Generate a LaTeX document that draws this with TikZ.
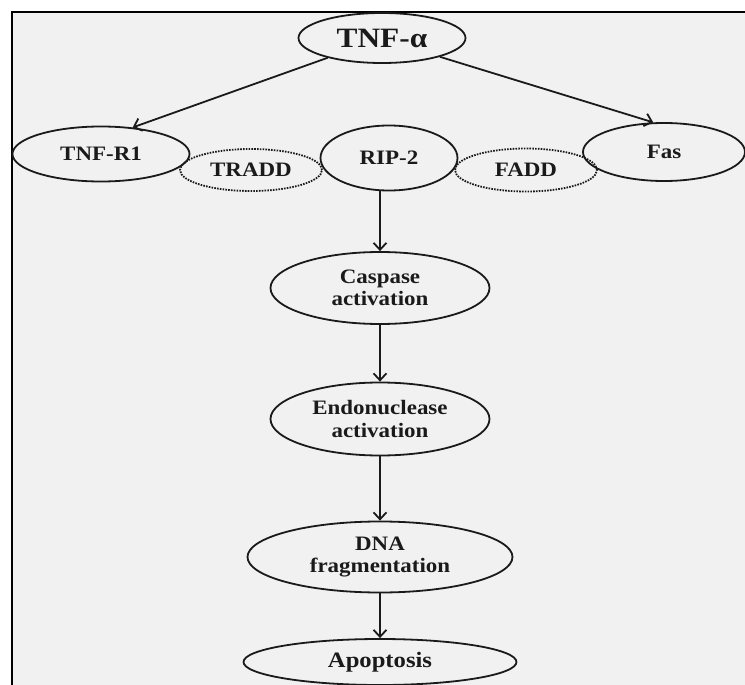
\documentclass[tikz,border=0pt]{standalone}
\usepackage{fontspec}
\setmainfont{Liberation Serif}[FakeStretch=1.12]
\usepackage{tikz}
\usetikzlibrary{arrows.meta,shapes.geometric}
\definecolor{paper}{HTML}{F1F1F1}
\definecolor{ink}{HTML}{1A1A1A}

\begin{document}
\begin{tikzpicture}[
  x=1pt, y=-1pt,
  >={Straight Barb[length=7pt,width=13pt]},
  cell/.style={ellipse, draw=ink, line width=1.8pt, inner sep=0pt, align=center, text=ink, font=\fontsize{20.5}{22.5}\selectfont\bfseries},
  adaptor/.style={cell, dash pattern=on 1.6pt off 1.2pt, line width=1.8pt},
  arrow/.style={->, line width=1.8pt, draw=ink}
]
\useasboundingbox (0,0) rectangle (745,685);
\fill[paper] (12,12) rectangle (745,685);
\draw[line width=2.2pt] (12,685) -- (12,12) -- (745,12);

\node[cell, minimum width=167pt, minimum height=50pt, font=\fontsize{28}{30}\selectfont\bfseries] (tnf) at (382,38) {TNF-α};
\node[cell, minimum width=177pt, minimum height=55pt] (tnfr1) at (101,154) {TNF-R1};
\node[adaptor, minimum width=142pt, minimum height=42pt] (tradd) at (251,170) {TRADD};
\node[cell, minimum width=137pt, minimum height=65pt] (rip) at (389,158) {RIP-2};
\node[adaptor, minimum width=142pt, minimum height=43pt] (fadd) at (526,170) {FADD};
\node[cell, minimum width=162pt, minimum height=58pt] (fas) at (664,152) {Fas};
\node[cell, minimum width=219pt, minimum height=72pt] (casp) at (380,288) {Caspase\\activation};
\node[cell, minimum width=219pt, minimum height=73pt] (endo) at (380,419) {Endonuclease\\activation};
\node[cell, minimum width=265pt, minimum height=71pt] (dna) at (380,557) {DNA\\fragmentation};
\node[cell, minimum width=273pt, minimum height=46pt, font=\fontsize{22}{24}\selectfont\bfseries] (apop) at (380,662) {Apoptosis};

\draw[arrow] (tnf.200) -- (tnfr1.40);
\draw[arrow] (tnf.342) -- (fas.110);
\draw[arrow] (casp.north |- rip.south) -- (casp.north);
\draw[arrow] (casp) -- (endo);
\draw[arrow] (endo) -- (dna);
\draw[arrow] (dna) -- (apop);
\end{tikzpicture}
\end{document}
